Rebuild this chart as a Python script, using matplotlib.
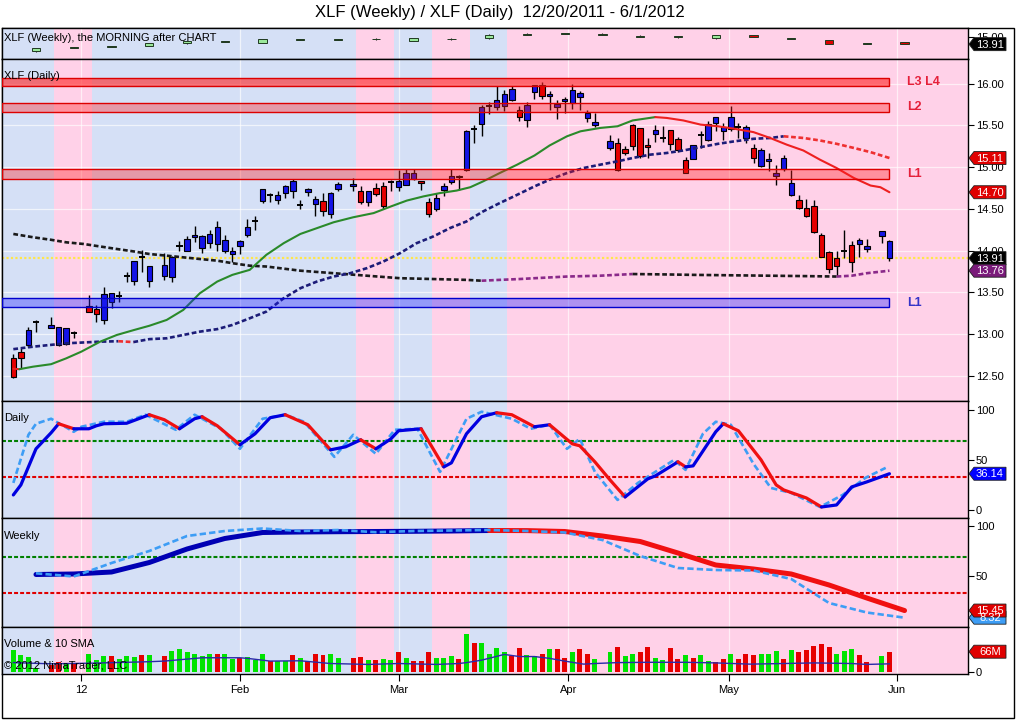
import numpy as np
import pandas as pd
import matplotlib
matplotlib.use("Agg")
import matplotlib.pyplot as plt
from matplotlib.patches import Polygon, Rectangle
from matplotlib.ticker import FormatStrFormatter
from matplotlib.transforms import IdentityTransform

plt.rcParams['font.family'] = ['Liberation Sans', 'DejaVu Sans']

# ---------------- data ----------------
title = "XLF (Weekly) / XLF (Daily)  12/20/2011 - 6/1/2012"
first_day, last_day = "2011-12-20", "2012-05-30"
holidays = ["2011-12-26", "2012-01-02", "2012-01-16", "2012-02-20",
            "2012-04-06", "2012-05-28"]

# daily candles, one per trading day
opens = [12.71, 12.79, 12.87, 13.14,
         13.07, 12.87, 12.88, 13.01,
         13.34, 13.30, 13.17, 13.38, 13.46, 13.70, 13.64, 13.93, 13.64,
         13.70, 13.68, 14.05, 13.99, 14.16, 14.03, 14.09, 14.08, 13.99, 13.96, 14.05, 14.19,
         14.35, 14.59, 14.67, 14.61, 14.69, 14.71, 14.55, 14.70, 14.56, 14.60, 14.44, 14.74,
         14.77, 14.72, 14.58, 14.75, 14.78, 14.82, 14.76, 14.79, 14.86, 14.83, 14.58, 14.50,
         14.73, 14.82, 14.90, 14.97, 15.46, 15.52, 15.73, 15.72, 15.73, 15.80, 15.68, 15.57,
         15.90, 15.99, 15.85, 15.72, 15.79, 15.77, 15.84, 15.59, 15.50,
         15.23, 15.29, 15.22, 15.50, 15.47, 15.27, 15.40, 15.35, 15.44, 15.34, 15.09, 15.10,
         15.38, 15.32, 15.53, 15.43, 15.46, 15.48, 15.35, 15.23, 15.01, 15.07, 14.89, 14.98,
         14.67, 14.61, 14.51, 14.53, 14.19, 13.98, 13.91, 14.00, 14.07, 14.08, 14.02,
         14.17, 14.11]
highs = [12.76, 12.83, 13.08, 13.17,
         13.20, 13.08, 13.07, 13.04,
         13.47, 13.35, 13.56, 13.49, 13.52, 13.75, 13.88, 14.01, 13.82,
         13.97, 13.94, 14.11, 14.18, 14.30, 14.19, 14.25, 14.35, 14.19, 14.04, 14.13, 14.38,
         14.42, 14.74, 14.69, 14.71, 14.79, 14.86, 14.61, 14.75, 14.66, 14.69, 14.70, 14.82,
         14.87, 14.77, 14.72, 14.81, 14.82, 14.85, 14.97, 14.98, 14.98, 14.83, 14.63, 14.69,
         14.81, 14.98, 14.91, 15.45, 15.51, 15.75, 15.78, 15.97, 15.93, 15.97, 15.73, 15.78,
         15.98, 16.02, 15.91, 15.80, 15.84, 16.00, 15.91, 15.69, 15.65,
         15.39, 15.35, 15.25, 15.52, 15.47, 15.35, 15.51, 15.49, 15.44, 15.36, 15.12, 15.26,
         15.43, 15.55, 15.60, 15.53, 15.73, 15.53, 15.51, 15.28, 15.23, 15.17, 15.03, 15.15,
         14.97, 14.67, 14.62, 14.61, 14.21, 13.99, 13.99, 14.25, 14.11, 14.15, 14.14,
         14.23, 14.13]
lows = [12.47, 12.60, 12.85, 13.02,
        13.07, 12.86, 12.87, 12.95,
        13.26, 13.14, 13.12, 13.31, 13.39, 13.62, 13.59, 13.75, 13.57,
        13.65, 13.62, 13.99, 13.99, 14.10, 13.97, 14.03, 13.99, 13.97, 13.87, 13.96, 14.16,
        14.25, 14.57, 14.58, 14.56, 14.63, 14.63, 14.50, 14.65, 14.42, 14.42, 14.39, 14.71,
        14.71, 14.56, 14.54, 14.65, 14.50, 14.71, 14.72, 14.79, 14.85, 14.73, 14.40, 14.47,
        14.66, 14.80, 14.73, 14.95, 15.29, 15.37, 15.64, 15.69, 15.67, 15.79, 15.55, 15.48,
        15.82, 15.82, 15.69, 15.58, 15.65, 15.70, 15.69, 15.54, 15.48,
        15.21, 14.95, 15.14, 15.20, 15.11, 15.11, 15.30, 15.30, 15.21, 15.18, 14.93, 15.10,
        15.23, 15.31, 15.43, 15.33, 15.43, 15.35, 15.29, 15.05, 15.00, 14.95, 14.79, 14.95,
        14.65, 14.50, 14.40, 14.21, 13.92, 13.73, 13.70, 13.91, 13.75, 13.93, 13.98,
        14.09, 13.88]
closes = [12.49, 12.71, 13.05, 13.14,
          13.11, 13.08, 13.07, 13.01,
          13.27, 13.24, 13.48, 13.49, 13.46, 13.70, 13.88, 13.93, 13.82,
          13.83, 13.93, 14.05, 14.14, 14.19, 14.17, 14.20, 14.28, 14.13, 14.00, 14.11, 14.28,
          14.35, 14.74, 14.67, 14.67, 14.77, 14.83, 14.55, 14.74, 14.62, 14.47, 14.69, 14.80,
          14.80, 14.58, 14.72, 14.68, 14.53, 14.82, 14.84, 14.93, 14.93, 14.81, 14.44, 14.63,
          14.78, 14.90, 14.88, 15.43, 15.46, 15.72, 15.73, 15.81, 15.88, 15.94, 15.60, 15.74,
          15.98, 15.85, 15.88, 15.76, 15.82, 15.92, 15.89, 15.65, 15.54,
          15.31, 14.97, 15.17, 15.25, 15.13, 15.24, 15.45, 15.35, 15.28, 15.20, 14.93, 15.26,
          15.38, 15.52, 15.60, 15.48, 15.60, 15.48, 15.48, 15.11, 15.20, 15.10, 14.93, 15.11,
          14.81, 14.51, 14.42, 14.22, 13.93, 13.78, 13.82, 14.00, 13.87, 14.13, 14.06,
          14.23, 13.91]
# bar paint: b = blue, r = red, n = doji
paint = ("rrbn" "bbbn" "rrbbnnbnb" "bbnbbbbbbbbbnbnbbbnbbrbb"
         "brbrrnbbbrrbbbrbnbnbbbrbbrbbbbbbb"
         "brrrrrbnrrrbnbbbbnbrbbbbbrrrrrrnrbb" "bb")

# volume in millions, g = up day, r = down day
volume = [70, 55, 47, 12,
          22, 31, 27, 24,
          57, 38, 51, 51, 42, 51, 48, 55, 54,
          51, 67, 74, 64, 57, 51, 60, 58, 57, 41, 46, 50, 37, 60, 35, 35, 35, 55, 46, 35,
          57, 55, 57, 44,
          44, 50, 37, 37, 43, 37, 64, 46, 34, 34, 64, 44, 46, 53, 41, 123, 94, 94, 57, 79,
          64, 53, 77, 55, 53, 60, 74, 74, 44, 64, 74, 60, 41,
          64, 80, 51, 57, 64, 80, 46, 37, 77, 41, 54, 44, 54, 34, 31, 41, 60, 41, 60, 55,
          60, 58, 67, 41, 70, 64, 70, 84, 90, 80, 60, 67, 74, 54, 31,
          51, 66]
vol_dir = ("gggg" "rrgr" "gggrgggrg" "rggggggrggrgggrggrgrrrgg"
           "rrgrggrgrrrgggrgrggggrrggrgrrgrrg"
           "grggrrggrrgrggrrgrrrgggrgrrrrrgggrr" "gr")
vol_sma_x = [0, 5, 10, 15, 18, 20, 25, 30, 31, 34, 38, 42, 47, 51, 56, 59, 60, 62, 65, 67,
             69, 71, 73, 75.5, 77, 80, 84, 89, 93, 97.5, 102, 106, 111, 113, 116]
vol_sma = [30, 26, 28, 31, 33, 35, 46, 46, 44, 35, 36, 27, 24, 27, 24, 27, 30, 38, 57, 50,
           50, 44, 35, 25, 27, 30, 31, 31, 29, 25, 27, 29, 27, 24, 26]

# moving averages on the daily chart (bar slot, price)
fast_x = [0, 0.8, 2.6, 5, 7, 9, 11.5, 13.7, 16, 18, 20.3, 22.5, 24.7, 27, 29, 31.3, 33.5,
          35.8, 38, 40.2, 42.4, 45, 47.7, 50, 52.1, 54.3, 56.5, 58.7, 60.5, 62.2, 64.4,
          66.7, 69, 71, 73.3, 75.1, 77.7, 80, 82, 85, 86.5, 88.7, 91, 93.3, 95.5, 98,
          100.2, 102.4, 104.6, 106.8, 109, 111.3, 113.5, 114.8, 116]
fast_ma = [12.585, 12.58, 12.61, 12.64, 12.71, 12.79, 12.91, 12.99, 13.05, 13.10, 13.17,
           13.29, 13.49, 13.63, 13.71, 13.77, 13.95, 14.09, 14.20, 14.27, 14.34, 14.40,
           14.45, 14.53, 14.60, 14.65, 14.69, 14.72, 14.76, 14.83, 14.93, 15.03, 15.14,
           15.26, 15.37, 15.43, 15.47, 15.49, 15.56, 15.60, 15.59, 15.56, 15.51, 15.49,
           15.46, 15.42, 15.35, 15.27, 15.20, 15.09, 14.99, 14.87, 14.78, 14.76, 14.70]
slow_x = [0, 2.65, 7, 11.5, 13.9, 15.9, 18, 20.3, 22.5, 24.7, 27, 29, 31.3, 33.5, 35.8, 38,
          40.2, 42.4, 44.6, 46.8, 49, 51.2, 53.4, 55.6, 57.8, 60, 62.2, 64.4, 66.5, 69, 71,
          73.3, 75.5, 77.7, 80, 82, 84.3, 86.5, 88.7, 91, 93.3, 95.5, 98, 100.2, 102, 104.6,
          106.8, 109, 111.3, 113.5, 116]
slow_ma = [12.82, 12.85, 12.89, 12.91, 12.915, 12.905, 12.94, 12.95, 12.99, 13.03, 13.06,
           13.11, 13.19, 13.27, 13.43, 13.55, 13.63, 13.69, 13.73, 13.79, 13.87, 13.97,
           14.09, 14.17, 14.27, 14.35, 14.47, 14.57, 14.66, 14.77, 14.85, 14.93, 14.99,
           15.03, 15.07, 15.11, 15.15, 15.17, 15.20, 15.24, 15.28, 15.31, 15.34, 15.35,
           15.37, 15.35, 15.32, 15.28, 15.23, 15.18, 15.11]
long_x = [0, 2.65, 5, 7, 9.3, 11.5, 13.7, 16, 18, 20.3, 22.5, 24.7, 27, 29, 31.3, 33.5, 38,
          42.4, 46.8, 51.2, 55.6, 60, 62, 64.4, 67, 69, 73.3, 77.7, 82, 86.5, 90, 95, 100,
          105, 109, 111, 113, 116]
long_ma = [14.20, 14.16, 14.13, 14.10, 14.08, 14.05, 14.02, 13.99, 13.96, 13.94, 13.92,
           13.90, 13.88, 13.85, 13.82, 13.81, 13.76, 13.73, 13.70, 13.67, 13.66, 13.65,
           13.64, 13.65, 13.66, 13.67, 13.69, 13.70, 13.72, 13.715, 13.71, 13.705, 13.70,
           13.695, 13.69, 13.70, 13.73, 13.76]

# support / resistance zones (low, high, label, colour key)
zones = [(15.97, 16.07, "L3 L4", "r"), (15.66, 15.77, "L2", "r"),
         (14.86, 14.98, "L1", "r"), (13.32, 13.43, "L1", "b")]

# weekly candles (top strip), g = green, n = flat, r = red
wk_open = [12.85, 13.35, 13.49, 13.70, 14.03, 14.20, 14.08, 14.49, 14.49, 14.59, 14.40, 14.59,
           14.75, 15.30, 15.39, 15.30, 15.01, 14.91, 14.75, 15.20, 14.69, 14.50, 13.97, 14.16]
wk_close = [13.30, 13.47, 13.61, 14.03, 14.36, 14.32, 14.65, 14.61, 14.61, 14.71, 14.83, 14.71,
            15.30, 15.42, 15.51, 15.42, 15.13, 15.03, 15.17, 15.00, 14.81, 13.93, 14.09, 13.91]
wk_high = [13.35, 13.53, 13.67, 14.06, 14.40, 14.36, 14.70, 14.66, 14.64, 14.75, 14.86, 14.75,
           15.33, 15.46, 15.56, 15.46, 15.17, 15.07, 15.20, 15.25, 14.85, 14.53, 14.13, 14.20]
wk_low = [12.80, 13.31, 13.45, 13.65, 14.00, 14.16, 14.05, 14.45, 14.45, 14.55, 14.38, 14.55,
          14.72, 15.26, 15.35, 15.26, 14.97, 14.87, 14.72, 14.90, 14.65, 13.90, 13.93, 13.88]
wk_paint = "gnnggngnnngngnnnnngrnrnr"

# weekly trend shading behind all panels (b = blue week, p = pink week)
week_shade = "bbpbbbbbbbpbpb" + "p" * 13

# daily stochastics (bar slot, value)
dk_x = [0, 1, 3, 5, 6, 8, 10, 11, 12, 15, 18, 20, 22, 24, 25, 27, 30, 32, 34, 36, 39, 42,
        44, 46, 48, 50, 51, 54, 57, 58, 60, 62, 64, 66, 69, 71, 74, 75, 77, 79, 81, 84, 85,
        88, 89, 90, 93, 94, 96, 99, 101, 102, 105, 107, 109, 111, 113, 116]
dk = [15, 25, 61, 77, 86, 81, 81, 84, 86, 86.5, 95, 90, 81, 91, 93, 84, 65, 76, 92, 95, 85,
      60, 63, 70, 61, 71, 79, 81, 43, 47, 76, 93, 97, 95, 83, 85, 66, 64, 48, 30, 13, 31,
      34, 48, 43, 44, 78, 86, 79, 50, 25, 20, 12, 3, 5, 23, 28, 36.14]
dd_x = [0, 2, 3, 5, 8, 9, 12, 15, 17.5, 21.5, 24, 27.5, 30, 33, 36, 38.5, 42.5, 45, 48, 50.5,
        53.5, 56.5, 60, 62, 66, 68.5, 71, 73.3, 75, 77, 80, 82.7, 87.5, 89, 91.3, 93, 95, 98,
        100.3, 103, 106.8, 109.8, 112.8, 115.5]
dd = [27, 75, 86, 91, 78, 83, 88, 88, 95, 80, 95, 81, 61, 91, 95, 88, 53, 75, 56, 80, 81, 38,
      91, 98, 91, 81, 85, 61, 71, 38, 10, 27, 50, 40, 76, 88, 85, 46, 22, 17, 3, 15, 32, 42]

# weekly stochastics, one value per weekly bar
wk_k = [51.5, 52, 54, 63.5, 77, 87.5, 93.5, 94.0, 94.3, 94.5, 94.7, 95.0, 95.5, 95.4, 94.5,
        90, 84.5, 73, 61, 57, 52, 41, 28, 15.45]
wk_d = [52.7, 49.5, 63, 75, 90, 95, 97.5, 95, 96, 93.8, 95, 95.5, 96, 95, 93.5, 86, 70, 58,
        56, 55.5, 47, 23, 13.5, 8.32]

xtick_pos = [9, 30, 51, 73.5, 94.7, 117]
xtick_labels = ["12", "Feb", "Mar", "Apr", "May", "Jun"]

# ---------------- positions on the bar axis ----------------
days = pd.bdate_range(first_day, last_day)
slots = np.arange(len(days))
x_daily = slots[~days.isin(pd.to_datetime(holidays))]
fridays = pd.date_range("2011-12-23", periods=len(wk_open), freq="W-FRI")
x_weekly = np.busday_count(np.datetime64(first_day), fridays.values.astype("datetime64[D]"))

o, h, l, c = (np.array(a) for a in (opens, highs, lows, closes))
assert len(o) == len(h) == len(l) == len(c) == len(paint) == len(x_daily)
assert len(volume) == len(vol_dir) == len(x_daily)

# ---------------- style ----------------
W, H = 1016, 720
LEFT, RIGHT = 2, 968
XMIN, XMAX = -1.5, 126.4
SHADE0 = -4.6
SHADE = {"b": "#d5e0f6", "p": "#ffd1e8"}
BODY = {"b": "#1414e6", "r": "#e60000"}
VOLC = {"g": "#00e400", "r": "#e60000"}
WKC = {"g": "#9ae89a", "n": "#1e1e1e", "r": "#e00000"}
ZONE_FC = {"r": (1, 0.125, 0.125), "b": (0.125, 0.125, 1)}
ZONE_EC = {"r": "#dd0000", "b": "#0000cc"}
ZONE_TXT = {"r": "#e5203a", "b": "#3434c8"}

fig = plt.figure(figsize=(W / 100, H / 100), dpi=100)
fig.patch.set_facecolor("white")


def make_panel(top, bottom):
    ax = fig.add_axes([LEFT / W, 1 - bottom / H, (RIGHT - LEFT) / W, (bottom - top) / H])
    ax.set_xlim(XMIN, XMAX)
    for k, s in enumerate(week_shade):
        x0 = SHADE0 + 5 * k
        ax.axvspan(x0, x0 + 5, color=SHADE[s], lw=0, zorder=0)
    ax.set_xticks(xtick_pos)
    ax.set_axisbelow(True)
    ax.grid(axis="x", color="white", lw=0.9, alpha=0.65)
    ax.yaxis.tick_right()
    ax.tick_params(axis="y", direction="out", length=4, width=0.8, pad=1.5, labelsize=8)
    ax.tick_params(axis="x", length=0, labelbottom=False)
    for sp in ax.spines.values():
        sp.set_linewidth(1)
    return ax


def two_tone(ax, xs, ys, up, down, **kw):
    xs, ys = np.asarray(xs, float), np.asarray(ys, float)
    rising = np.diff(ys) >= 0
    start = 0
    for j in range(1, len(rising) + 1):
        if j == len(rising) or rising[j] != rising[start]:
            ax.plot(xs[start:j + 1], ys[start:j + 1],
                    color=up if rising[start] else down, **kw)
            start = j


def tag(ax, value, text, fc, fg="white"):
    x0 = ax.transAxes.transform((1, 0))[0]
    y0 = ax.transData.transform((0, value))[1]
    pts = [(x0 + 1, y0), (x0 + 6, y0 + 6.5), (x0 + 38, y0 + 6.5),
           (x0 + 38, y0 - 6.5), (x0 + 6, y0 - 6.5)]
    fig.add_artist(Polygon(pts, closed=True, fc=fc, ec="#202020", lw=0.6,
                           transform=IdentityTransform(), zorder=10))
    fig.text(x0 + 22, y0 - 0.5, text, transform=IdentityTransform(), color=fg,
             fontsize=8, ha="center", va="center", zorder=11)


def label(ypix, text):
    fig.text(4 / W, 1 - ypix / H, text, fontsize=8, va="center", zorder=12)


# ---------------- weekly strip ----------------
ax_s = make_panel(28, 59)
ax_s.set_ylim(11.76, 16.25)
wo, wc = np.array(wk_open), np.array(wk_close)
ax_s.vlines(x_weekly, wk_low, wk_high, color="#202020", lw=0.8, zorder=3)
ax_s.bar(x_weekly, np.abs(wc - wo), bottom=np.minimum(wo, wc), width=1.1,
         color=[WKC[p] for p in wk_paint], edgecolor="#203a20", lw=0.7, zorder=3.2)
ax_s.set_yticks([15.0])
ax_s.yaxis.set_major_formatter(FormatStrFormatter("%.2f"))
label(38, "XLF (Weekly), the MORNING after CHART")

# ---------------- daily price panel ----------------
ax = make_panel(59, 401)
ax.set_ylim(12.199, 16.296)
ax.set_yticks(np.arange(12.5, 16.01, 0.5))
ax.yaxis.set_major_formatter(FormatStrFormatter("%.2f"))
ax.grid(axis="y", color="white", lw=0.9, alpha=0.65)

ax.axhline(c[-1], color="#ffe64a", lw=1.6, ls=(0, (1, 1)), zorder=2.5)
two_tone(ax, long_x, long_ma, "#8a2a8a", "#1a1a1a", lw=1.9, ls=(0, (1.8, 1.0)), zorder=3.5)
two_tone(ax, slow_x, slow_ma, "#1c1c78", "#ee3030", lw=1.9, ls=(0, (1.8, 1.0)), zorder=3.5)
two_tone(ax, fast_x, fast_ma, "#2a8a2a", "#ee2020", lw=1.5, zorder=3.5,
         solid_capstyle="round")

doji = np.array([p == "n" for p in paint])
ax.vlines(x_daily, l, h, color="black", lw=1, zorder=3)
ax.bar(x_daily[~doji], np.abs(c - o)[~doji], bottom=np.minimum(o, c)[~doji], width=0.72,
       color=[BODY[p] for p in paint if p != "n"], edgecolor="black", lw=0.8, zorder=3.2)
ax.hlines(o[doji], x_daily[doji] - 0.4, x_daily[doji] + 0.4, color="black", lw=1.4,
          zorder=3.2)

for lo, hi, name, key in zones:
    ax.add_patch(Rectangle((XMIN, lo), x_daily[-1] - XMIN, hi - lo,
                           fc=ZONE_FC[key] + ((0.6 if name == "L3 L4" else 0.36),),
                           ec=ZONE_EC[key], lw=1, zorder=4))
    ax.text(x_daily[-1] + 2.3, (lo + hi) / 2, name, color=ZONE_TXT[key], fontsize=9,
            fontweight="bold", va="center", zorder=5)
label(76, "XLF (Daily)")

# ---------------- daily stochastics ----------------
ax_d = make_panel(401, 518)
ax_d.set_ylim(-8, 108.7)
ax_d.set_yticks([0, 50, 100])
ax_d.axhline(69, color="#008000", lw=1.5, ls=(0, (1.9, 1.0)), zorder=2)
ax_d.axhline(33, color="#e00000", lw=1.5, ls=(0, (1.9, 1.0)), zorder=2)
ax_d.plot(dd_x, dd, color="#3d9df5", lw=1.9, ls=(0, (2.4, 1.2)), zorder=3)
two_tone(ax_d, dk_x, dk, "#0000e0", "#f01010", lw=2.3, zorder=3.5,
         solid_capstyle="round")
label(418, "Daily")

# ---------------- weekly stochastics ----------------
ax_w = make_panel(518, 627)
ax_w.set_ylim(-1, 108)
ax_w.set_yticks([50, 100])
ax_w.axhline(69, color="#008000", lw=1.5, ls=(0, (1.9, 1.0)), zorder=2)
ax_w.axhline(33, color="#e00000", lw=1.5, ls=(0, (1.9, 1.0)), zorder=2)
two_tone(ax_w, x_weekly, wk_k, "#0000b4", "#f01010", lw=3.6, zorder=3,
         solid_capstyle="round")
ax_w.plot(x_weekly, wk_d, color="#3d9df5", lw=1.9, ls=(0, (2.4, 1.2)), zorder=3.5)
label(536, "Weekly")

# ---------------- volume ----------------
ax_v = make_panel(627, 674)
ax_v.set_ylim(-7.6, 147.5)
ax_v.set_yticks([0])
ax_v.bar(x_daily, volume, width=0.66, color=[VOLC[d] for d in vol_dir], lw=0, zorder=2)
ax_v.plot(vol_sma_x, vol_sma, color="#2a2aa8", lw=1, zorder=3)
ax_v.set_xticks(xtick_pos, xtick_labels)
ax_v.tick_params(axis="x", direction="out", length=5, width=0.8, labelsize=8, pad=3,
                 labelbottom=True)
label(644, "Volume & 10 SMA")
label(666, "\u00a9 2012 NinjaTrader, LLC")

# ---------------- frame, title, value tags ----------------
fig.add_artist(Rectangle((2 / W, 2 / H), 1012 / W, 690 / H, transform=fig.transFigure,
                         fill=False, ec="black", lw=1, zorder=0))
fig.text(500 / W, 1 - 12 / H, title, fontsize=12, ha="center", va="center")

tag(ax_s, wk_close[-1], f"{wk_close[-1]:.2f}", "black")
tag(ax, slow_ma[-1], f"{slow_ma[-1]:.2f}", "#e00000")
tag(ax, fast_ma[-1], f"{fast_ma[-1]:.2f}", "#e00000")
tag(ax, c[-1], f"{c[-1]:.2f}", "black")
tag(ax, long_ma[-1], f"{long_ma[-1]:.2f}", "#7a1a7a")
tag(ax_d, dk[-1], f"{dk[-1]:.2f}", "#0000ff")
tag(ax_w, wk_d[-1], f"{wk_d[-1]:.2f}", "#3d9df5")
tag(ax_w, wk_k[-1], f"{wk_k[-1]:.2f}", "#e00000")
tag(ax_v, volume[-1], f"{volume[-1]:.0f}M", "#e00000")

fig.savefig("out.png", dpi=100)
